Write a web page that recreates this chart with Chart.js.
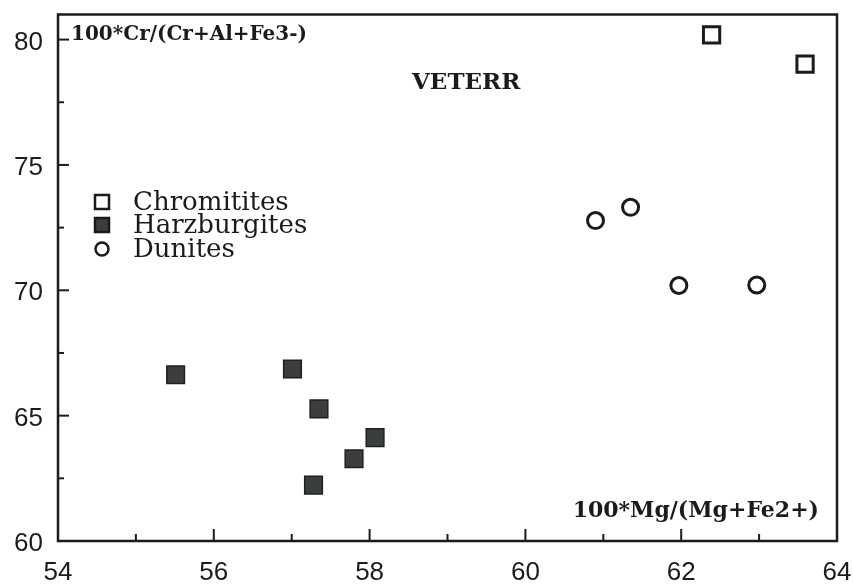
<!DOCTYPE html>
<html>
<head>
<meta charset="utf-8">
<script src="https://cdn.jsdelivr.net/npm/chart.js@4.4.0/dist/chart.umd.min.js"></script>
<style>
  body { margin: 0; background: #fff; }
  #wrap { width: 853px; height: 584px; }
</style>
</head>
<body>
<div id="wrap"><canvas id="myChart" width="853" height="584"></canvas></div>
<script>
// values
const chromititesX = [62.39, 63.59];
const chromititesY = [80.19, 79.02];
const harzburgitesX = [55.51, 57.01, 57.35, 58.07, 57.80, 57.28];
const harzburgitesY = [66.63, 66.86, 65.27, 64.12, 63.28, 62.23];
const dunitesX = [60.90, 61.35, 61.97, 62.97];
const dunitesY = [72.78, 73.31, 70.19, 70.21];
const seriesNames = ['Chromitites', 'Harzburgites', 'Dunites'];
const xTicks = [54, 56, 58, 60, 62, 64];
const yTicks = [60, 65, 70, 75, 80];
const yTitle = '100*Cr/(Cr+Al+Fe3-)';
const xTitle = '100*Mg/(Mg+Fe2+)';
const plotName = 'VETERR';

const toPoints = (xs, ys) => xs.map((x, i) => ({ x: x, y: ys[i] }));
const ink = '#1b1b1b';

// frame + inward tick marks, drawn from the chart's own scales
const framePlugin = {
  id: 'frame',
  beforeDatasetsDraw(chart) {
    const ctx = chart.ctx;
    const a = chart.chartArea;
    const xs = chart.scales.x, ys = chart.scales.y;
    ctx.save();
    ctx.strokeStyle = ink;
    ctx.lineWidth = 2.5;
    ctx.strokeRect(a.left, a.top, a.right - a.left, a.bottom - a.top);
    ctx.lineWidth = 2;
    xs.ticks.forEach(t => {
      if (t.value <= xs.min || t.value >= xs.max) return;
      const px = xs.getPixelForValue(t.value);
      const len = xTicks.includes(t.value) ? 12 : 7;
      ctx.beginPath();
      ctx.moveTo(px, a.bottom);
      ctx.lineTo(px, a.bottom - len);
      ctx.stroke();
    });
    ys.ticks.forEach(t => {
      if (t.value <= ys.min || t.value > 80) return;
      const py = ys.getPixelForValue(t.value);
      const len = yTicks.includes(t.value) ? 11 : 6;
      ctx.beginPath();
      ctx.moveTo(a.left, py);
      ctx.lineTo(a.left + len, py);
      ctx.stroke();
    });
    ctx.restore();
  },
  afterDraw(chart) {
    const ctx = chart.ctx;
    ctx.save();
    ctx.fillStyle = ink;
    ctx.textAlign = 'left';
    ctx.textBaseline = 'alphabetic';
    ctx.font = 'bold 20px "DejaVu Serif"';
    ctx.fillText(yTitle, 71, 40);
    ctx.font = 'bold 23px "DejaVu Serif"';
    ctx.fillText(plotName, 412, 89);
    ctx.font = 'bold 22px "DejaVu Serif"';
    ctx.textAlign = 'right';
    ctx.fillText(xTitle, 819, 517);

    // legend
    const ds = chart.data.datasets;
    const rows = [202, 225, 249];
    ctx.font = '26px "DejaVu Serif"';
    ctx.textAlign = 'left';
    ds.forEach((d, i) => {
      const cy = rows[i], cx = 102;
      ctx.lineWidth = 2.5;
      ctx.strokeStyle = ink;
      ctx.fillStyle = d.backgroundColor;
      if (d.pointStyle === 'circle') {
        ctx.beginPath();
        ctx.arc(cx, cy, 6.5, 0, Math.PI * 2);
        ctx.fill();
        ctx.stroke();
      } else {
        ctx.beginPath();
        ctx.rect(cx - 7, cy - 7, 14, 14);
        ctx.fill();
        ctx.stroke();
      }
      ctx.fillStyle = ink;
      ctx.fillText(d.label, 133, cy + 8);
    });
    ctx.restore();
  }
};

const ctx = document.getElementById('myChart').getContext('2d');
const chart = new Chart(ctx, {
  type: 'scatter',
  data: {
    datasets: [
      {
        label: seriesNames[0],
        data: toPoints(chromititesX, chromititesY),
        pointStyle: 'rect',
        pointRadius: 11.5,
        backgroundColor: '#fff',
        borderColor: ink,
        borderWidth: 3
      },
      {
        label: seriesNames[1],
        data: toPoints(harzburgitesX, harzburgitesY),
        pointStyle: 'rect',
        pointRadius: 12.5,
        backgroundColor: '#3a3f3e',
        borderColor: '#202020',
        borderWidth: 1.5
      },
      {
        label: seriesNames[2],
        data: toPoints(dunitesX, dunitesY),
        pointStyle: 'circle',
        pointRadius: 8,
        backgroundColor: '#fff',
        borderColor: ink,
        borderWidth: 3
      }
    ]
  },
  options: {
    responsive: false,
    animation: false,
    layout: { padding: { top: 12, right: 16, left: 0, bottom: 0 } },
    plugins: { legend: { display: false }, tooltip: { enabled: false } },
    elements: { point: { hoverRadius: 0 } },
    scales: {
      x: {
        type: 'linear',
        min: 54,
        max: 64,
        grid: { display: false, drawTicks: false },
        border: { display: false },
        ticks: {
          stepSize: 1,
          autoSkip: false,
          maxRotation: 0,
          padding: 16,
          color: ink,
          font: { family: '"Liberation Sans"', size: 26 },
          callback: v => xTicks.includes(v) ? String(v) : ''
        },
        afterFit: s => { s.height = 43; s.paddingLeft = 0; s.paddingRight = 0; }
      },
      y: {
        type: 'linear',
        min: 60,
        max: 81,
        grid: { display: false, drawTicks: false },
        border: { display: false },
        ticks: {
          stepSize: 2.5,
          includeBounds: false,
          autoSkip: false,
          padding: 15,
          labelOffset: 3,
          color: ink,
          font: { family: '"Liberation Sans"', size: 26 },
          callback: v => yTicks.includes(v) ? String(v) : ''
        },
        afterFit: s => { s.width = 58; s.paddingTop = 0; s.paddingBottom = 0; }
      }
    }
  },
  plugins: [framePlugin]
});
</script>
</body>
</html>
